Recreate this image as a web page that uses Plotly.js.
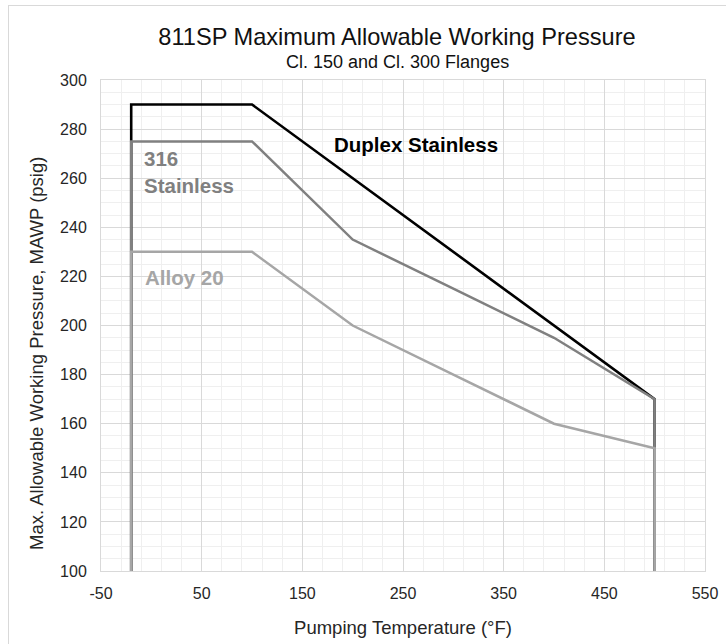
<!DOCTYPE html>
<html>
<head>
<meta charset="utf-8">
<script src="https://cdn.plot.ly/plotly-3.0.1.min.js"></script>
<style>
  html, body { margin: 0; padding: 0; background: #fff; }
  #wrap { position: relative; width: 726px; height: 644px; overflow: hidden; }
  #chart { position: absolute; left: 0; top: 0; width: 726px; height: 644px; }
  #frame { position: absolute; left: 8px; top: 5px; width: 760px; height: 700px; border: 1px solid #d9d9d9; pointer-events: none; }
</style>
</head>
<body>
<div id="wrap"><div id="chart"></div><div id="frame"></div></div>
<script>
// Data
const temps = [-20, -20, 100, 200, 300, 400, 500, 500];
const duplexStainless = [100, 290, 290, 260, 230, 200, 170, 100];
const stainless316 = [100, 275, 275, 235, 215, 195, 170, 100];
const alloy20 = [100, 230, 230, 200, 180, 160, 150, 100];

const seriesNames = ['Duplex Stainless', '316 Stainless', 'Alloy 20'];
const seriesColors = ['#000000', '#808080', '#a6a6a6'];

const xTickVals = [-50, 50, 150, 250, 350, 450, 550];
const xTickText = ['-50', '50', '150', '250', '350', '450', '550'];
const xMin = -50, xMax = 550;
const yTickStep = 20, yMin = 100, yMax = 300;

const FONT = 'Liberation Sans, Arial, sans-serif';

const traces = [
  { x: temps, y: duplexStainless, name: seriesNames[0], mode: 'lines', line: { color: seriesColors[0], width: 2.6 } },
  { x: temps, y: stainless316, name: seriesNames[1], mode: 'lines', line: { color: seriesColors[1], width: 2.5 } },
  { x: temps, y: alloy20, name: seriesNames[2], mode: 'lines', line: { color: seriesColors[2], width: 2.5 } }
];

const labelFont = 20.5;

const layout = {
  width: 726, height: 644,
  margin: { l: 101, r: 21, t: 80, b: 73 },
  paper_bgcolor: '#ffffff', plot_bgcolor: '#ffffff',
  showlegend: false,
  hovermode: false,
  font: { family: FONT, color: '#262626' },
  title: {
    text: '811SP Maximum Allowable Working Pressure',
    font: { family: FONT, size: 23.6, color: '#111111' },
    xref: 'container', x: 397 / 726, xanchor: 'center',
    yref: 'container', y: 1 - 37 / 644, yanchor: 'middle'
  },
  xaxis: {
    range: [xMin, xMax], tickmode: 'array', tickvals: xTickVals, ticktext: xTickText,
    showgrid: true, gridcolor: '#d9d9d9', gridwidth: 1,
    minor: { tick0: xMin, dtick: 20, showgrid: true, gridcolor: '#efefef', gridwidth: 1 },
    showline: true, mirror: true, linecolor: '#d9d9d9', linewidth: 1,
    zeroline: false, ticks: '', ticklabelstandoff: 8,
    tickfont: { family: FONT, size: 16, color: '#262626' },
    title: { text: 'Pumping Temperature (°F)', font: { family: FONT, size: 18.5, color: '#262626' }, standoff: 19 }
  },
  yaxis: {
    range: [yMin, yMax], tick0: yMin, dtick: yTickStep,
    showgrid: true, gridcolor: '#d9d9d9', gridwidth: 1,
    minor: { tick0: yMin, dtick: 5, showgrid: true, gridcolor: '#efefef', gridwidth: 1 },
    showline: true, mirror: true, linecolor: '#d9d9d9', linewidth: 1,
    zeroline: false, ticks: '', ticklabelstandoff: 10,
    tickfont: { family: FONT, size: 16, color: '#262626' },
    title: { text: '' }
  },
  annotations: [
    { text: 'Cl. 150 and Cl. 300 Flanges', xref: 'paper', yref: 'paper', x: (397 - 101) / 604, y: (571 - 62) / 491,
      xanchor: 'center', yanchor: 'middle', showarrow: false, font: { family: FONT, size: 18, color: '#111111' } },
    { text: 'Max. Allowable Working Pressure, MAWP (psig)', xref: 'paper', yref: 'paper', x: (36 - 101) / 604, y: (571 - 354) / 491,
      xanchor: 'center', yanchor: 'middle', textangle: -90, showarrow: false, font: { family: FONT, size: 18.5, color: '#262626' } },
    { text: '<b>Duplex Stainless</b>', x: 262.6, y: 273.7, xanchor: 'center', yanchor: 'middle', showarrow: false,
      font: { family: FONT, size: labelFont, color: seriesColors[0] } },
    { text: '<b>316<br>Stainless</b>', x: -9.5, y: 262.5, xanchor: 'left', yanchor: 'middle', align: 'left', showarrow: false,
      font: { family: FONT, size: labelFont, color: seriesColors[1] } },
    { text: '<b>Alloy 20</b>', x: -8.5, y: 219.5, xanchor: 'left', yanchor: 'middle', showarrow: false,
      font: { family: FONT, size: labelFont, color: seriesColors[2] } }
  ]
};

Plotly.newPlot('chart', traces, layout, { displayModeBar: false, staticPlot: true });
</script>
</body>
</html>
